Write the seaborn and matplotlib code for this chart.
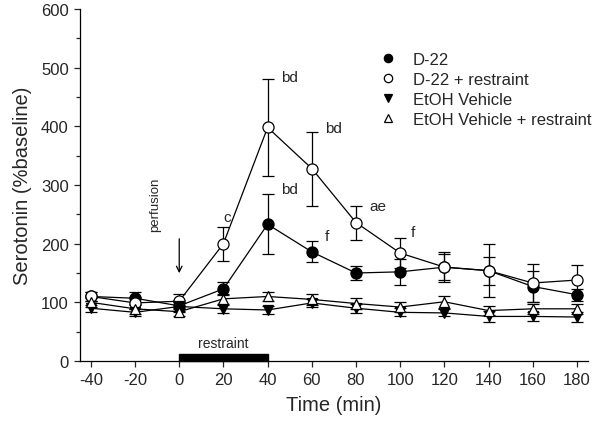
import matplotlib
matplotlib.use('Agg')
from matplotlib import pyplot as plt
from matplotlib.lines import Line2D
from matplotlib.ticker import MultipleLocator
import numpy as np
import seaborn as sns
import pandas as pd

time = [-40, -20, 0, 20, 40, 60, 80, 100, 120, 140, 160, 180]

d22 = [110, 107, 94, 123, 233, 186, 150, 152, 160, 154, 127, 113]
d22_err = [8, 11, 10, 11, 51, 18, 12, 22, 25, 45, 27, 10]

d22_res = [110, 99, 102, 200, 398, 328, 236, 184, 160, 154, 133, 138]
d22_res_err = [8, 10, 13, 29, 82, 63, 29, 25, 22, 24, 33, 26]

etoh = [90, 83, 93, 89, 87, 99, 90, 83, 82, 76, 76, 75]
etoh_err = [6, 6, 7, 7, 7, 7, 8, 7, 6, 10, 8, 9]

etoh_res = [100, 89, 84, 106, 110, 105, 98, 92, 101, 86, 89, 89]
etoh_res_err = [8, 8, 7, 9, 8, 9, 9, 8, 10, 8, 8, 8]

names = ['D-22', 'D-22 + restraint', 'EtOH Vehicle', 'EtOH Vehicle + restraint']
markers = ['o', 'o', 'v', '^']
faces = ['black', 'white', 'black', 'white']
sizes = [8, 8, 7, 7.5]

# significance letters: (x, y, text)
notes = [(20, 233, 'c'), (46, 472, 'bd'), (66, 386, 'bd'), (46, 282, 'bd'),
         (66, 201, 'f'), (86, 252, 'ae'), (105, 208, 'f')]

df = pd.DataFrame({'time': time * 4,
                   'value': d22 + d22_res + etoh + etoh_res,
                   'err': d22_err + d22_res_err + etoh_err + etoh_res_err,
                   'group': np.repeat(names, len(time))})

sns.set_style('ticks')
plt.rcParams['font.family'] = ['Liberation Sans', 'DejaVu Sans']
plt.rcParams['axes.unicode_minus'] = False

fig = plt.figure(figsize=(6, 4.31), dpi=100)
ax = fig.add_axes([0.133, 0.16, 0.847, 0.817])

for i, name in enumerate(names):
    sub = df[df['group'] == name]
    ax.errorbar(sub['time'], sub['value'], yerr=sub['err'], fmt='none',
                ecolor='black', elinewidth=0.9, capsize=4, capthick=0.9, zorder=2)
    sns.lineplot(data=sub, x='time', y='value', ax=ax, color='black',
                 linewidth=0.9, marker=markers[i], markersize=sizes[i],
                 markerfacecolor=faces[i], markeredgecolor='black',
                 markeredgewidth=0.9, zorder=3 + i, legend=False)

for x, y, t in notes:
    ax.text(x, y, t, fontsize=11, ha='left', va='bottom')

# perfusion arrow
ax.annotate('', xy=(0, 145), xytext=(0, 213),
            arrowprops=dict(arrowstyle='->', color='black', lw=0.9))
ax.text(-11, 268, 'perfusion', rotation=90, fontsize=9.5, ha='center', va='center')

# restraint bar
ax.add_patch(plt.Rectangle((0, 0), 40, 12, color='black', clip_on=False, zorder=6))
ax.text(20, 18, 'restraint', fontsize=10, ha='center', va='bottom')

ax.set_xlim(-45, 185)
ax.set_ylim(0, 600)
ax.set_xticks(range(-40, 181, 20))
ax.yaxis.set_major_locator(MultipleLocator(100))
ax.yaxis.set_minor_locator(MultipleLocator(50))
ax.tick_params(axis='both', labelsize=12, direction='out', length=4, width=0.9, pad=4)
ax.tick_params(axis='y', which='minor', length=3, width=0.9)
ax.set_xlabel('Time (min)', fontsize=14.5, labelpad=6)
ax.set_ylabel('Serotonin (%baseline)', fontsize=14.5, labelpad=6)
sns.despine(ax=ax)
for s in ['left', 'bottom']:
    ax.spines[s].set_linewidth(0.9)
    ax.spines[s].set_color('black')

handles = [Line2D([], [], linestyle='none', marker=markers[i], color='black',
                  markerfacecolor=faces[i], markersize=6,
                  markeredgewidth=0.9) for i in range(4)]
ax.legend(handles, names, loc='upper left', bbox_to_anchor=(0.56, 0.92),
          frameon=False, fontsize=12, handletextpad=1.0, labelspacing=0.3,
          handlelength=1.0)

fig.savefig('out.png', dpi=100)
